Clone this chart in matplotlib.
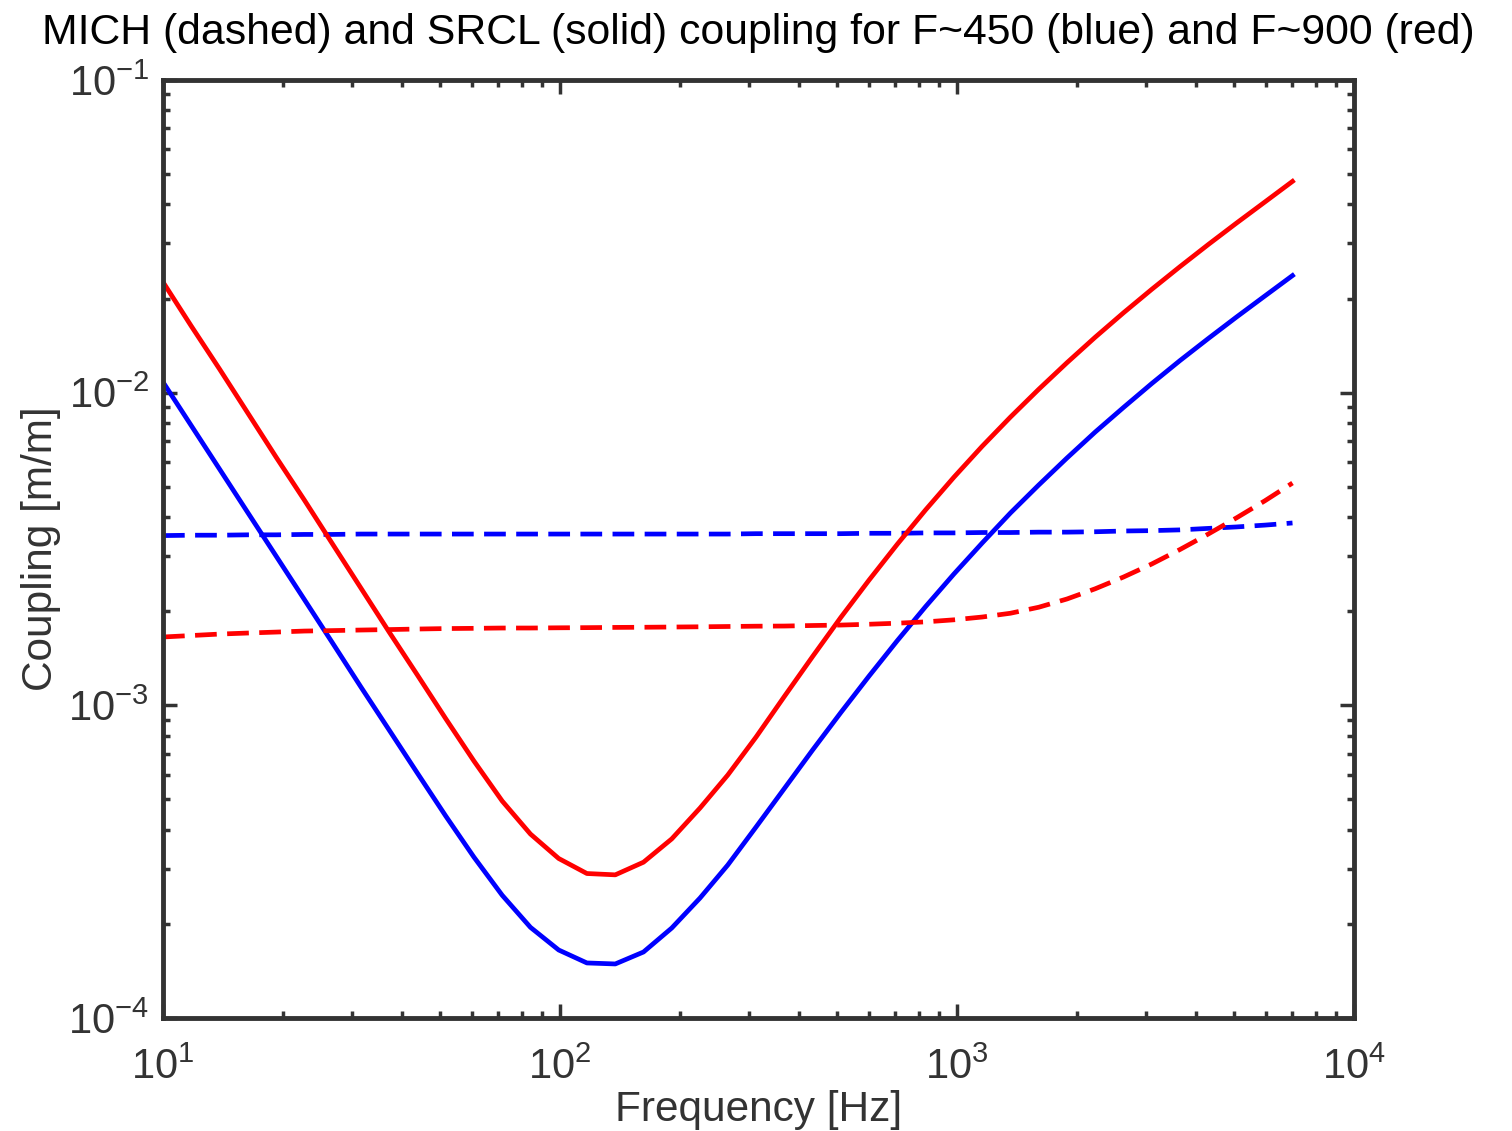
import matplotlib
matplotlib.use("Agg")
import matplotlib.pyplot as plt
from matplotlib.ticker import LogLocator, NullFormatter

plt.rcParams['font.family'] = ['Liberation Sans', 'DejaVu Sans']
plt.rcParams['mathtext.fontset'] = 'custom'
plt.rcParams['mathtext.rm'] = 'Liberation Sans'
plt.rcParams['mathtext.it'] = 'Liberation Sans:italic'
plt.rcParams['mathtext.bf'] = 'Liberation Sans:bold'

AX_COL = "#333333"

# frequency grid [Hz]
freq = [10.0, 11.78, 13.88, 16.35, 19.27, 22.70, 26.74, 31.51, 37.12, 43.73,
        51.52, 60.70, 71.51, 84.25, 99.26, 116.9, 137.8, 162.3, 191.2, 225.3,
        264.6, 311.8, 367.3, 432.7, 509.8, 600.6, 707.6, 833.7, 982.2, 1157,
        1363, 1606, 1892, 2229, 2626, 3094, 3645, 4294, 5059, 5961, 7000]

# SRCL coupling, F~900 (red solid)
srcl_900 = [0.02258, 0.01633, 0.01190, 0.00861, 0.00622, 0.004535, 0.003279, 0.002372,
            0.001716, 0.001250, 0.0009073, 0.0006637, 0.0004943, 0.0003876, 0.0003237, 0.0002898,
            0.000287, 0.000315, 0.000374, 0.0004695, 0.0005985, 0.0007918, 0.001067, 0.001432,
            0.001911, 0.002516, 0.003277, 0.004219, 0.005364, 0.006735, 0.008350, 0.010247,
            0.012463, 0.015040, 0.01800, 0.021398, 0.025293, 0.02976, 0.03486, 0.04070, 0.04739]

# SRCL coupling, F~450 (blue solid)
srcl_450 = [0.01081, 0.007848, 0.005697, 0.004136, 0.003002, 0.002180, 0.001582, 0.001145,
            0.000834, 0.000607, 0.000443, 0.000327, 0.000247, 0.000195, 0.000165, 0.000150,
            0.0001489, 0.0001626, 0.0001940, 0.0002420, 0.0003085, 0.0004082, 0.0005418, 0.0007194,
            0.0009484, 0.001241, 0.001611, 0.002070, 0.002630, 0.003304, 0.004121, 0.005064,
            0.006178, 0.007482, 0.008964, 0.010693, 0.012666, 0.014894, 0.017450, 0.020370, 0.023685]

# MICH coupling, F~450 (blue dashed)
mich_450 = [0.00349, 0.00350, 0.00350, 0.00351, 0.00351, 0.00352, 0.00352, 0.00353,
            0.00353, 0.00353, 0.00353, 0.00353, 0.00353, 0.00353, 0.00353, 0.00353,
            0.00353, 0.00353, 0.00353, 0.00353, 0.00353, 0.00354, 0.00354, 0.00354,
            0.00354, 0.00355, 0.00355, 0.00356, 0.00356, 0.00357, 0.00357, 0.00358,
            0.00358, 0.00359, 0.00361, 0.00362, 0.00364, 0.00368, 0.00372, 0.00377, 0.00383]

# MICH coupling, F~900 (red dashed)
mich_900 = [0.001654, 0.001672, 0.001690, 0.001703, 0.001715, 0.001728, 0.001734, 0.001741,
            0.001747, 0.001754, 0.001760, 0.001763, 0.001767, 0.001767, 0.001770, 0.001772,
            0.001775, 0.001777, 0.001780, 0.001783, 0.001787, 0.001791, 0.001793, 0.001800,
            0.001806, 0.001817, 0.001831, 0.001849, 0.001877, 0.001916, 0.001970, 0.002059,
            0.002188, 0.002359, 0.002572, 0.002831, 0.003150, 0.003530, 0.003977, 0.004508,
            0.005140]

fig = plt.figure(figsize=(15.12, 11.31), dpi=100)
ax = fig.add_axes([0.1078, 0.0999, 0.7877, 0.8294])

LW = 3.4
dash = (4.6, 2.2)
ax.loglog(freq, mich_450, color=(0, 0, 1), lw=LW, dashes=dash)
ax.loglog(freq, srcl_450, color=(0, 0, 1), lw=LW)
ax.loglog(freq, mich_900, color=(1, 0, 0), lw=LW, dashes=dash)
ax.loglog(freq, srcl_900, color=(1, 0, 0), lw=LW)

ax.set_xlim(10, 1e4)
ax.set_ylim(1e-4, 1e-1)

for s in ax.spines.values():
    s.set_linewidth(3.5)
    s.set_color(AX_COL)

ax.xaxis.set_major_locator(LogLocator(base=10, numticks=10))
ax.yaxis.set_major_locator(LogLocator(base=10, numticks=10))
ax.xaxis.set_minor_locator(LogLocator(base=10, subs=range(2, 10), numticks=10))
ax.yaxis.set_minor_locator(LogLocator(base=10, subs=range(2, 10), numticks=10))
ax.xaxis.set_minor_formatter(NullFormatter())
ax.yaxis.set_minor_formatter(NullFormatter())

ax.tick_params(which='both', direction='in', top=True, right=True, color=AX_COL)
ax.tick_params(which='major', length=10, width=2.5, labelsize=30, labelcolor=AX_COL)
ax.tick_params(which='minor', length=5, width=2.5)
ax.tick_params(axis='x', which='major', pad=21)
ax.tick_params(axis='y', which='major', pad=10)

ax.set_xlabel("Frequency [Hz]", fontsize=30.5, color=AX_COL, labelpad=2)
ax.set_ylabel("Coupling [m/m]", fontsize=30.5, color=AX_COL, labelpad=5)
ax.set_title("MICH (dashed) and SRCL (solid) coupling for F~450 (blue) and F~900 (red)",
             fontsize=30.8, color='black', pad=26)

fig.savefig("out.png", dpi=100)
